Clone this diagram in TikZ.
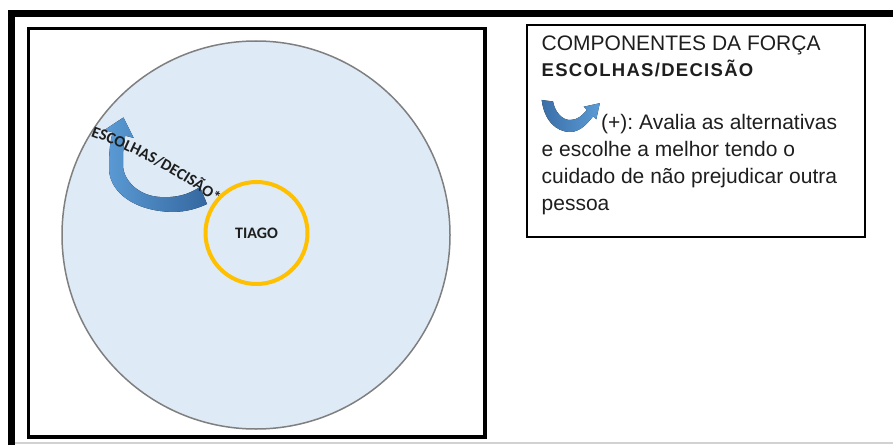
\documentclass[tikz,border=0pt]{standalone}
\usepackage{fontspec}
\setmainfont{Liberation Sans}
\newfontfamily\carl{Carlito}
\newfontfamily\titlesp{Liberation Sans}[LetterSpace=7]
\usetikzlibrary{decorations.text}
\definecolor{circfill}{HTML}{DEEAF6}
\definecolor{circline}{HTML}{7F7F7F}
\definecolor{ring}{HTML}{FFC000}
\definecolor{arrL}{HTML}{5B9BD5}
\definecolor{arrD}{HTML}{3567A0}
\definecolor{txt}{HTML}{1E1E1E}
\newcommand\arrowfont{\carl\bfseries\fontsize{16}{16}\selectfont}
\tikzset{
  boxtext/.style={anchor=base west, inner sep=0pt, text=txt, font=\fontsize{21}{25}\selectfont},
  boxtitle/.style={anchor=base west, inner sep=0pt, text=txt, font=\titlesp\bfseries\fontsize{18.5}{21}\selectfont},
  bluearrow/.style={left color=arrL, right color=arrD, draw=none},
}
\frenchspacing
\begin{document}
\begin{tikzpicture}[x=1pt,y=1pt]
\useasboundingbox (0,0) rectangle (893,445);
% outer frame
\draw[line width=7, line join=miter] (11.5,0) -- (11.5,431.5) -- (893,431.5);
\draw[gray!35, line width=1.5] (15,2) -- (893,2);
% inner frame
\draw[line width=3.5] (28.5,416.5) rectangle (485,8);
% field circle
\node[circle, draw=circline, fill=circfill, line width=1.5, minimum size=388, inner sep=0pt] (field) at (256,210) {};
% Tiago ring
\node[circle, draw=ring, line width=4, minimum size=102, inner sep=0pt, text=txt, font=\carl\bfseries\fontsize{16}{16}\selectfont] (tiago) at (256.5,212) {TIAGO};
% curved arrow
\fill[bluearrow] (207,241) .. controls (190,233) and (175,232) .. (160,234)
  .. controls (130,238) and (109,255) .. (109,277)
  .. controls (109,293) and (110,303) .. (112.7,312.7)
  -- (104.4,314.9) -- (123.4,327.5) -- (133.6,307.1) -- (125.3,309.3)
  .. controls (123,300) and (123,290) .. (123,279)
  .. controls (124,263) and (140,249) .. (160,248)
  .. controls (175,247) and (188,250) .. (200,258) -- cycle;
% text along the arrow
\path[decorate, decoration={text along path, text={|\arrowfont|ESCOLHAS/DECISÃO*}, text align=center, text color=txt}]
  (90,309) .. controls (133,293.5) and (179.5,269.7) .. (216,241);
% legend box
\draw[line width=1.3] (527,420) rectangle (865,208);
\node[boxtext] (title1) at (541.5,394.3) {COMPONENTES DA FORÇA};
\node[boxtitle] (title2) at (541.5,368) {ESCOLHAS/DECISÃO};
% legend icon
\fill[left color=arrD!85!arrL, right color=arrL] (541.7,345) .. controls (544,325) and (556,313) .. (570,313)
  .. controls (580,313) and (587,321) .. (593.2,328.8)
  -- (596.3,325.7) -- (599.8,341.8) -- (583.7,338.3) -- (586.9,335.1)
  .. controls (582,329) and (577,325) .. (570,325)
  .. controls (562,325) and (555,333) .. (553,343.5) -- cycle;
\node[boxtext] (l1) at (601,315) {(+): Avalia as alternativas};
\node[boxtext] (l2) at (541.5,288.3) {e escolhe a melhor tendo o};
\node[boxtext] (l3) at (541.5,261.5) {cuidado de não prejudicar outra};
\node[boxtext] (l4) at (541.5,234.5) {pessoa};
\end{tikzpicture}
\end{document}
